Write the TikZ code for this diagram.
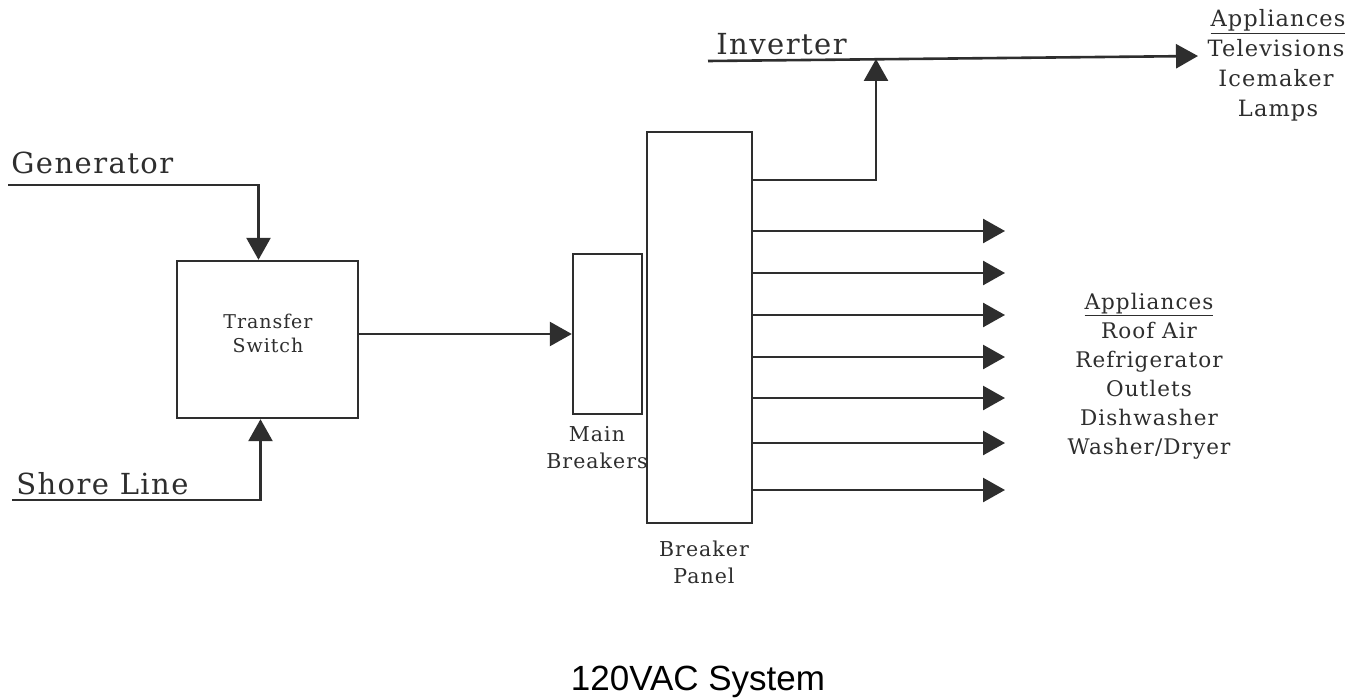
\documentclass[tikz,border=0pt]{standalone}
\usepackage{fontspec}
\usetikzlibrary{arrows.meta}
\newfontfamily\lblfont[LetterSpace=5]{DejaVu Serif}
\newfontfamily\titlefont{Liberation Sans}
\definecolor{ink}{HTML}{2E2E2E}
\begin{document}
\begin{tikzpicture}[x=1pt,y=-1pt,
  ink, line width=2.6pt,
  arr/.style={-{Triangle[length=22pt,width=24pt]}, line width=2.6pt},
  boxst/.style={draw, inner sep=0pt, line width=2.4pt},
  big/.style={font=\lblfont\fontsize{29}{32}\selectfont, inner sep=0pt, text=ink},
  small/.style={font=\lblfont\fontsize{19}{24}\selectfont, inner sep=0pt, align=center, text=ink},
  lbl/.style={font=\lblfont\fontsize{20.5}{27}\selectfont, inner sep=0pt, align=center, text=ink},
  listA/.style={font=\lblfont\fontsize{22.5}{27}\selectfont, inner sep=0pt, anchor=base, text=ink},
  listB/.style={font=\lblfont\fontsize{21.5}{29}\selectfont, inner sep=0pt, align=center, text=ink}]
\useasboundingbox (0,0) rectangle (1369,698);
\fill[white] (0,0) rectangle (1369,698);

% boxes
\node[boxst, minimum width=181pt, minimum height=157pt] (ts) at (267.5,339.5) {};
\node[small] (tstext) at (268,333) {Transfer\\Switch};
\node[boxst, minimum width=69pt, minimum height=160pt] (mb) at (607.5,334) {};
\node[boxst, minimum width=105pt, minimum height=391pt] (bp) at (699.5,327.5) {};

% labels
\node[big, anchor=base west] (gen) at (10,174) {Generator};
\node[big, anchor=base west] (shore) at (15,494) {Shore Line};
\node[big, anchor=base west] (inv) at (715,55) {Inverter};
\node[lbl, anchor=north] (mbl) at (597,425) {Main\\Breakers};
\node[lbl, anchor=north] (bpl) at (704,540) {Breaker\\Panel};
\node[listA] (a1) at (1278,27) {\underline{Appliances}};
\node[listA] (a2) at (1276,57) {Televisions};
\node[listA] (a3) at (1276,87) {Icemaker};
\node[listA] (a4) at (1278,117) {Lamps};
\node[listB, anchor=north] (app2) at (1149,292) {\underline{Appliances}\\Roof Air\\Refrigerator\\Outlets\\Dishwasher\\Washer/Dryer};
\node[font=\titlefont\fontsize{35}{40}\selectfont, anchor=base, inner sep=0pt, text=black] (title) at (698,690) {120VAC System};

% connectors
\coordinate (g0) at (8,185);
\draw[arr] (g0) -| ([xshift=-9pt]ts.north);
\coordinate (s0) at (12,500);
\draw[arr] (s0) -| ([xshift=-7pt]ts.south);
\draw[arr] (ts.east |- mb.west) -- (mb.west);

\coordinate (i0) at (708,61);
\coordinate (i1) at (1198,56);
\draw[arr] (i0) -- (i1);
\coordinate (ij) at (876,59);
\draw[arr] (bp.east |- 0,180) -| (ij);

\foreach \yy [count=\k] in {231,273,315,357,398,443,490}{
  \coordinate (b\k) at (1005,\yy);
  \draw[arr] (bp.east |- 0,\yy) -- (b\k);
}
\end{tikzpicture}
\end{document}
